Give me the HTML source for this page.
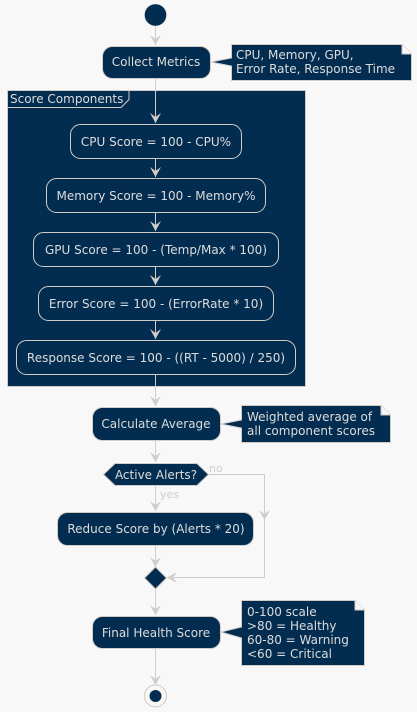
<!DOCTYPE html>
<html><head><meta charset="utf-8"><style>html,body{margin:0;padding:0;background:#f8f8f8}svg{display:block}</style></head><body>
<svg width="417" height="712" viewBox="0 0 417 712" xmlns="http://www.w3.org/2000/svg" font-family="'DejaVu Sans','Liberation Sans',sans-serif" font-size="12">
<rect width="417" height="712" fill="#f8f8f8"/>
<g fill="#032d50" stroke="#d0ccc8" stroke-width="1">
<rect x="7.5" y="90.5" width="298" height="296"/>
<path d="M7.5,107.5 L121,107.5 L129,99.5 L129,90.5" fill="none"/>
</g>
<text x="10" y="103" fill="#dcdcdc">Score Components</text>
<g stroke="#d0ccc8" fill="none" stroke-width="1">
<line x1="155.5" y1="26" x2="155.5" y2="45"/>
<line x1="155.5" y1="78" x2="155.5" y2="123"/>
<line x1="155.5" y1="158" x2="155.5" y2="177"/>
<line x1="155.5" y1="212" x2="155.5" y2="231"/>
<line x1="155.5" y1="266" x2="155.5" y2="285"/>
<line x1="155.5" y1="320" x2="155.5" y2="339"/>
<line x1="155.5" y1="374" x2="155.5" y2="406"/>
<line x1="155.5" y1="440" x2="155.5" y2="462"/>
<line x1="155.5" y1="486" x2="155.5" y2="511"/>
<line x1="155.5" y1="545" x2="155.5" y2="567"/>
<line x1="155.5" y1="589" x2="155.5" y2="615"/>
<line x1="155.5" y1="648" x2="155.5" y2="685"/>
<polyline points="208,474.5 264.5,474.5 264.5,577.5 168,577.5"/>
</g>
<g fill="#d0ccc8">
<path d="M150,35 L155.5,45 L161,35 L155.5,39 Z"/>
<path d="M150,113 L155.5,123 L161,113 L155.5,117 Z"/>
<path d="M150,167 L155.5,177 L161,167 L155.5,171 Z"/>
<path d="M150,221 L155.5,231 L161,221 L155.5,225 Z"/>
<path d="M150,275 L155.5,285 L161,275 L155.5,279 Z"/>
<path d="M150,329 L155.5,339 L161,329 L155.5,333 Z"/>
<path d="M150,396 L155.5,406 L161,396 L155.5,400 Z"/>
<path d="M150,452 L155.5,462 L161,452 L155.5,456 Z"/>
<path d="M150,501 L155.5,511 L161,501 L155.5,505 Z"/>
<path d="M150,557 L155.5,567 L161,557 L155.5,561 Z"/>
<path d="M150,605 L155.5,615 L161,605 L155.5,609 Z"/>
<path d="M150,675 L155.5,685 L161,675 L155.5,679 Z"/>
<path d="M259,510 L264.5,520 L270,510 L264.5,514 Z"/>
<path d="M177,572 L167,577.5 L177,583 L173,577.5 Z"/>
</g>
<circle cx="155.5" cy="15" r="11" fill="#032d50" stroke="#d0ccc8" stroke-width="0.5"/>
<g fill="#032d50" stroke="#d0ccc8" stroke-width="1">
<rect x="102.5" y="46.5" width="108" height="32" rx="10"/>
<path d="M231.5,44.5 L402,44.5 L411.5,54 L411.5,80.5 L231.5,80.5 L231.5,66 L211,62 L231.5,58 Z"/>
<path d="M402,44.5 L402,54 L411.5,54" fill="#f8f8f8"/>
<rect x="70.5" y="124.5" width="171" height="34" rx="10"/>
<rect x="46.5" y="178.5" width="219" height="34" rx="10"/>
<rect x="33.5" y="232.5" width="245" height="34" rx="10"/>
<rect x="38.5" y="286.5" width="235" height="34" rx="10"/>
<rect x="16.5" y="340.5" width="279" height="34" rx="10"/>
<rect x="92.5" y="407.5" width="128" height="33" rx="10"/>
<path d="M241.5,405.5 L381,405.5 L390.5,415 L390.5,442.5 L241.5,442.5 L241.5,428 L221,424 L241.5,420 Z"/>
<path d="M381,405.5 L381,415 L390.5,415" fill="#f8f8f8"/>
<path d="M115,463.5 L197,463.5 L208.5,474.5 L197,485.5 L115,485.5 L103.5,474.5 Z"/>
<rect x="57.5" y="512.5" width="196" height="33" rx="10"/>
<path d="M155.5,567 L166.5,578 L155.5,589 L144.5,578 Z"/>
<rect x="92.5" y="616.5" width="128" height="32" rx="10"/>
<path d="M241.5,600.5 L355,600.5 L364.5,610 L364.5,665.5 L241.5,665.5 L241.5,638 L221,632 L241.5,627 Z"/>
<path d="M355,600.5 L355,610 L364.5,610" fill="#f8f8f8"/>
</g>
<circle cx="155.5" cy="696" r="11" fill="none" stroke="#d0ccc8" stroke-width="1"/>
<circle cx="155.5" cy="696" r="6" fill="#032d50"/>
<g fill="#dcdcdc">
<text x="156" y="66" text-anchor="middle">Collect Metrics</text>
<text x="236" y="59">CPU, Memory, GPU,</text>
<text x="236" y="73">Error Rate, Response Time</text>
<text x="156" y="146" text-anchor="middle">CPU Score = 100 - CPU%</text>
<text x="156" y="200" text-anchor="middle">Memory Score = 100 - Memory%</text>
<text x="156" y="254" text-anchor="middle">GPU Score = 100 - (Temp/Max * 100)</text>
<text x="156" y="308" text-anchor="middle">Error Score = 100 - (ErrorRate * 10)</text>
<text x="156" y="362" text-anchor="middle">Response Score = 100 - ((RT - 5000) / 250)</text>
<text x="156" y="428" text-anchor="middle">Calculate Average</text>
<text x="247" y="421">Weighted average of</text>
<text x="247" y="435">all component scores</text>
<text x="156" y="479" text-anchor="middle">Active Alerts?</text>
<text x="156" y="533" text-anchor="middle">Reduce Score by (Alerts * 20)</text>
<text x="156" y="637" text-anchor="middle">Final Health Score</text>
<text x="247" y="616">0-100 scale</text>
<text x="247" y="630">&gt;80 = Healthy</text>
<text x="247" y="644">60-80 = Warning</text>
<text x="247" y="658">&lt;60 = Critical</text>
</g>
<g fill="#d0ccc8" font-size="11">
<text x="209" y="472">no</text>
<text x="160" y="498">yes</text>
</g>
</svg>
</body></html>
